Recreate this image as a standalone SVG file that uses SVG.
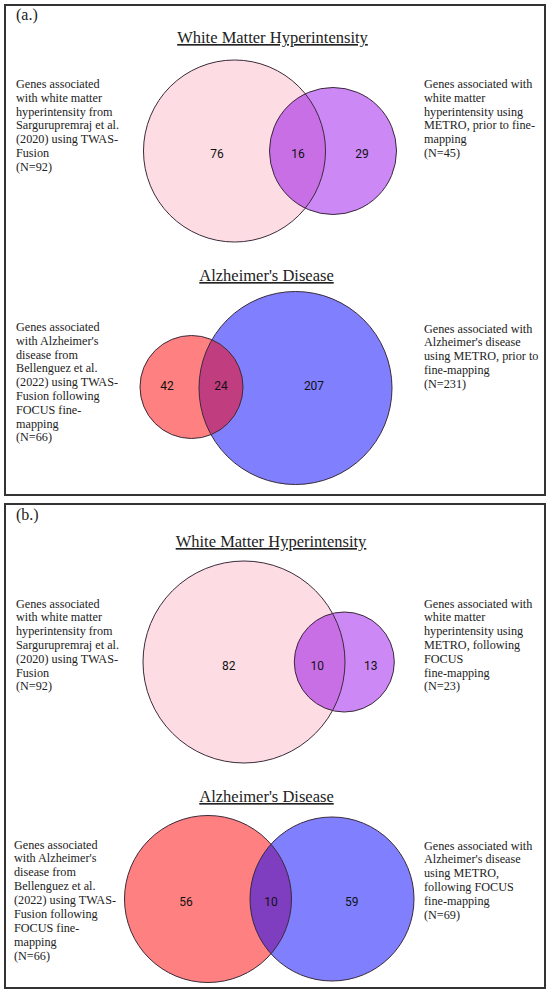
<svg xmlns="http://www.w3.org/2000/svg" width="550" height="995" viewBox="0 0 550 995">
<style>
.panel{fill:#fff;stroke:#333;stroke-width:2}
.lbl{font-family:"Liberation Serif",serif;font-size:16px;fill:#222}
.title{font-family:"Liberation Serif",serif;font-size:16.5px;fill:#222;text-anchor:middle;text-decoration:underline}
.desc{font-family:"Liberation Serif",serif;font-size:12.2px;fill:#222}
.num{font-family:Roboto,"Liberation Sans",sans-serif;font-size:12px;fill:#111;text-anchor:middle}
.edge{fill:none;stroke:#3a2a3a;stroke-width:1}
</style>
<defs>
<clipPath id="cA1"><circle cx="234.5" cy="151" r="91"/></clipPath>
<clipPath id="cA2"><circle cx="191.5" cy="387" r="51.5"/></clipPath>
<clipPath id="cB1"><circle cx="244" cy="662" r="101"/></clipPath>
<clipPath id="cB2"><circle cx="208" cy="899" r="83.5"/></clipPath>
</defs>
<rect width="550" height="995" fill="#fff"/>
<rect class="panel" x="5" y="5" width="540" height="490"/>
<rect class="panel" x="5" y="504" width="540" height="484"/>
<text class="lbl" x="16" y="20">(a.)</text>
<text class="lbl" x="16" y="520">(b.)</text>

<g id="wmh-a">
<text class="title" x="272.5" y="43">White Matter Hyperintensity</text>
<circle cx="234.5" cy="151" r="91" fill="#fddde3"/>
<circle cx="333" cy="151" r="63.5" fill="#cc88f5"/>
<circle cx="333" cy="151" r="63.5" fill="#c86fe6" clip-path="url(#cA1)"/>
<circle class="edge" cx="234.5" cy="151" r="91"/>
<circle class="edge" cx="333" cy="151" r="63.5"/>
<text class="num" x="217" y="158">76</text>
<text class="num" x="298" y="158">16</text>
<text class="num" x="362" y="158">29</text>
<text class="desc" x="16" y="88"><tspan x="16">Genes associated</tspan><tspan x="16" dy="13.8">with white matter</tspan><tspan x="16" dy="13.8">hyperintensity from</tspan><tspan x="16" dy="13.8">Sargurupremraj et al.</tspan><tspan x="16" dy="13.8">(2020) using TWAS-</tspan><tspan x="16" dy="13.8">Fusion</tspan><tspan x="16" dy="13.8">(N=92)</tspan></text>
<text class="desc" x="424" y="88"><tspan x="424">Genes associated with</tspan><tspan x="424" dy="13.8">white matter</tspan><tspan x="424" dy="13.8">hyperintensity using</tspan><tspan x="424" dy="13.8">METRO, prior to fine-</tspan><tspan x="424" dy="13.8">mapping</tspan><tspan x="424" dy="13.8">(N=45)</tspan></text>
</g>

<g id="ad-a">
<text class="title" x="266.5" y="281">Alzheimer's Disease</text>
<circle cx="295.5" cy="388" r="96.5" fill="#8080ff"/>
<circle cx="191.5" cy="387" r="51.5" fill="#ff8080"/>
<circle cx="295.5" cy="388" r="96.5" fill="#c03d80" clip-path="url(#cA2)"/>
<circle class="edge" cx="295.5" cy="388" r="96.5"/>
<circle class="edge" cx="191.5" cy="387" r="51.5"/>
<text class="num" x="167" y="390">42</text>
<text class="num" x="221" y="390">24</text>
<text class="num" x="314" y="390">207</text>
<text class="desc" x="16" y="331"><tspan x="16">Genes associated</tspan><tspan x="16" dy="13.8">with Alzheimer's</tspan><tspan x="16" dy="13.8">disease from</tspan><tspan x="16" dy="13.8">Bellenguez et al.</tspan><tspan x="16" dy="13.8">(2022) using TWAS-</tspan><tspan x="16" dy="13.8">Fusion following</tspan><tspan x="16" dy="13.8">FOCUS fine-</tspan><tspan x="16" dy="13.8">mapping</tspan><tspan x="16" dy="13.8">(N=66)</tspan></text>
<text class="desc" x="424" y="332.5"><tspan x="424">Genes associated with</tspan><tspan x="424" dy="13.8">Alzheimer's disease</tspan><tspan x="424" dy="13.8">using METRO, prior to</tspan><tspan x="424" dy="13.8">fine-mapping</tspan><tspan x="424" dy="13.8">(N=231)</tspan></text>
</g>

<g id="wmh-b">
<text class="title" x="271" y="547">White Matter Hyperintensity</text>
<circle cx="244" cy="662" r="101" fill="#fddde3"/>
<circle cx="344.3" cy="662" r="50" fill="#cc88f5"/>
<circle cx="344.3" cy="662" r="50" fill="#c86fe6" clip-path="url(#cB1)"/>
<circle class="edge" cx="244" cy="662" r="101"/>
<circle class="edge" cx="344.3" cy="662" r="50"/>
<text class="num" x="228.7" y="670">82</text>
<text class="num" x="317.3" y="670">10</text>
<text class="num" x="370.7" y="670">13</text>
<text class="desc" x="16" y="607.5"><tspan x="16">Genes associated</tspan><tspan x="16" dy="13.8">with white matter</tspan><tspan x="16" dy="13.8">hyperintensity from</tspan><tspan x="16" dy="13.8">Sargurupremraj et al.</tspan><tspan x="16" dy="13.8">(2020) using TWAS-</tspan><tspan x="16" dy="13.8">Fusion</tspan><tspan x="16" dy="13.8">(N=92)</tspan></text>
<text class="desc" x="424" y="607.5"><tspan x="424">Genes associated with</tspan><tspan x="424" dy="13.8">white matter</tspan><tspan x="424" dy="13.8">hyperintensity using</tspan><tspan x="424" dy="13.8">METRO, following</tspan><tspan x="424" dy="13.8">FOCUS</tspan><tspan x="424" dy="13.8">fine-mapping</tspan><tspan x="424" dy="13.8">(N=23)</tspan></text>
</g>

<g id="ad-b">
<text class="title" x="266.5" y="802">Alzheimer's Disease</text>
<circle cx="208" cy="899" r="83.5" fill="#ff8080"/>
<circle cx="332" cy="899" r="82" fill="#8080ff"/>
<circle cx="332" cy="899" r="82" fill="#7f3dc0" clip-path="url(#cB2)"/>
<circle class="edge" cx="208" cy="899" r="83.5"/>
<circle class="edge" cx="332" cy="899" r="82"/>
<text class="num" x="186" y="906">56</text>
<text class="num" x="271" y="906">10</text>
<text class="num" x="351.7" y="906">59</text>
<text class="desc" x="14" y="848.5"><tspan x="14">Genes associated</tspan><tspan x="14" dy="13.9">with Alzheimer's</tspan><tspan x="14" dy="13.9">disease from</tspan><tspan x="14" dy="13.9">Bellenguez et al.</tspan><tspan x="14" dy="13.9">(2022) using TWAS-</tspan><tspan x="14" dy="13.9">Fusion following</tspan><tspan x="14" dy="13.9">FOCUS fine-</tspan><tspan x="14" dy="13.9">mapping</tspan><tspan x="14" dy="13.9">(N=66)</tspan></text>
<text class="desc" x="424" y="849.5"><tspan x="424">Genes associated with</tspan><tspan x="424" dy="13.9">Alzheimer's disease</tspan><tspan x="424" dy="13.9">using METRO,</tspan><tspan x="424" dy="13.9">following FOCUS</tspan><tspan x="424" dy="13.9">fine-mapping</tspan><tspan x="424" dy="13.9">(N=69)</tspan></text>
</g>
<g id="connectors"/>
</svg>
